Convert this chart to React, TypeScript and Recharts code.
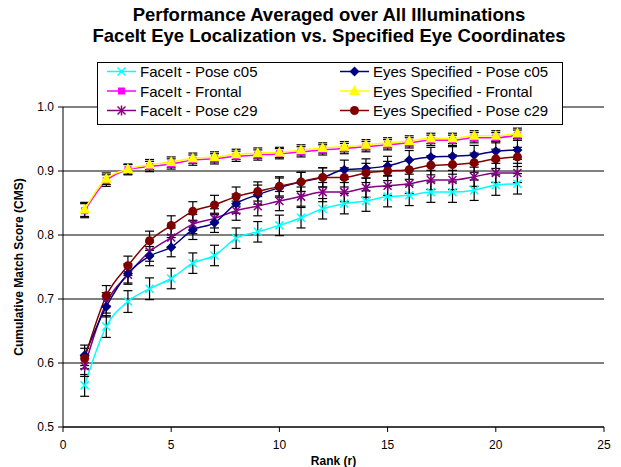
import { CartesianGrid, ErrorBar, Line, LineChart, XAxis, YAxis } from "recharts"

// rank values on the x axis
const ranks = [1, 2, 3, 4, 5, 6, 7, 8, 9, 10, 11, 12, 13, 14, 15, 16, 17, 18, 19, 20, 21]

// cumulative match scores
const faceItPoseC05 = [0.565, 0.657, 0.696, 0.716, 0.732, 0.756, 0.768, 0.795, 0.805, 0.815, 0.827, 0.841, 0.849, 0.853, 0.86, 0.862, 0.867, 0.867, 0.87, 0.878, 0.88]
const faceItFrontal = [0.838, 0.885, 0.902, 0.907, 0.911, 0.917, 0.919, 0.923, 0.925, 0.927, 0.93, 0.933, 0.935, 0.938, 0.941, 0.944, 0.948, 0.948, 0.952, 0.952, 0.956]
const faceItPoseC29 = [0.595, 0.694, 0.738, 0.774, 0.796, 0.817, 0.826, 0.838, 0.845, 0.853, 0.86, 0.867, 0.867, 0.874, 0.877, 0.88, 0.886, 0.886, 0.891, 0.897, 0.897]
const eyesPoseC05 = [0.612, 0.688, 0.74, 0.767, 0.781, 0.808, 0.819, 0.849, 0.863, 0.874, 0.883, 0.89, 0.902, 0.904, 0.908, 0.917, 0.922, 0.923, 0.925, 0.931, 0.933]
const eyesFrontal = [0.84, 0.888, 0.903, 0.91, 0.914, 0.92, 0.922, 0.926, 0.928, 0.929, 0.933, 0.936, 0.938, 0.941, 0.944, 0.947, 0.951, 0.951, 0.955, 0.955, 0.959]
const eyesPoseC29 = [0.607, 0.705, 0.752, 0.791, 0.815, 0.837, 0.847, 0.86, 0.868, 0.876, 0.883, 0.89, 0.89, 0.897, 0.9, 0.902, 0.909, 0.91, 0.913, 0.919, 0.922]

// error bar half-heights
const poseC05Err = [0.017, 0.017, 0.017, 0.017, 0.016, 0.016, 0.016, 0.016, 0.016, 0.016, 0.016, 0.016, 0.016, 0.016, 0.016, 0.016, 0.016, 0.016, 0.016, 0.016, 0.016]
const frontalErr = [0.011, 0.009, 0.008, 0.008, 0.008, 0.008, 0.008, 0.008, 0.008, 0.008, 0.008, 0.008, 0.008, 0.008, 0.008, 0.008, 0.008, 0.008, 0.008, 0.008, 0.008]
const otherErr = [0.016, 0.016, 0.015, 0.015, 0.015, 0.015, 0.015, 0.015, 0.015, 0.015, 0.015, 0.015, 0.015, 0.015, 0.015, 0.015, 0.015, 0.015, 0.015, 0.015, 0.015]

const xTicks = [0, 5, 10, 15, 20, 25]
const yTicks = [0.5, 0.6, 0.7, 0.8, 0.9, 1.0]

type Kind = "x" | "square" | "star" | "diamond" | "triangle" | "circle"

const series: { key: string; name: string; color: string; kind: Kind; values: number[]; err: number[] }[] = [
  { key: "faceC05", name: "FaceIt - Pose c05", color: "#00FFFF", kind: "x", values: faceItPoseC05, err: poseC05Err },
  { key: "faceFrontal", name: "FaceIt - Frontal", color: "#FF00FF", kind: "square", values: faceItFrontal, err: frontalErr },
  { key: "faceC29", name: "FaceIt - Pose c29", color: "#800080", kind: "star", values: faceItPoseC29, err: otherErr },
  { key: "eyesC05", name: "Eyes Specified - Pose c05", color: "#000080", kind: "diamond", values: eyesPoseC05, err: otherErr },
  { key: "eyesFrontal", name: "Eyes Specified - Frontal", color: "#FFFF00", kind: "triangle", values: eyesFrontal, err: frontalErr },
  { key: "eyesC29", name: "Eyes Specified - Pose c29", color: "#800000", kind: "circle", values: eyesPoseC29, err: otherErr },
]

const data = ranks.map((rank, i) => {
  const row: Record<string, number> = { rank }
  series.forEach((s) => {
    row[s.key] = s.values[i]
    row[s.key + "Err"] = s.err[i]
  })
  return row
})

function Marker({ kind, cx, cy, color }: { kind: Kind; cx: number; cy: number; color: string }) {
  switch (kind) {
    case "x":
      return (
        <g stroke={color} strokeWidth={1.5}>
          <line x1={cx - 4} y1={cy - 4} x2={cx + 4} y2={cy + 4} />
          <line x1={cx - 4} y1={cy + 4} x2={cx + 4} y2={cy - 4} />
        </g>
      )
    case "square":
      return <rect x={cx - 3.5} y={cy - 3.5} width={7} height={7} fill={color} />
    case "star":
      return (
        <g stroke={color} strokeWidth={1.5}>
          <line x1={cx - 4} y1={cy - 4} x2={cx + 4} y2={cy + 4} />
          <line x1={cx - 4} y1={cy + 4} x2={cx + 4} y2={cy - 4} />
          <line x1={cx} y1={cy - 5} x2={cx} y2={cy + 5} />
        </g>
      )
    case "diamond":
      return <polygon points={`${cx},${cy - 5} ${cx + 5},${cy} ${cx},${cy + 5} ${cx - 5},${cy}`} fill={color} />
    case "triangle":
      return <polygon points={`${cx},${cy - 6} ${cx + 5.5},${cy + 4} ${cx - 5.5},${cy + 4}`} fill={color} />
    default:
      return <circle cx={cx} cy={cy} r={4.5} fill={color} />
  }
}

const YLabel = (props: any) => {
  const vb = props.viewBox || {}
  const cy = vb.y + vb.height / 2
  return (
    <text
      x={19}
      y={cy}
      transform={`rotate(-90 19 ${cy})`}
      textAnchor="middle"
      dominantBaseline="central"
      fontSize={12}
      fontWeight="bold"
      fill="#000"
    >
      Cumulative Match Score (CMS)
    </text>
  )
}

const font = "'Liberation Sans', Arial, sans-serif"

export default function App() {
  return (
    <div style={{ position: "absolute", left: 0, top: 0, width: 621, height: 467, background: "#fff", fontFamily: font, overflow: "hidden" }}>
      <div style={{ position: "absolute", left: 0, width: 658, top: 4, textAlign: "center", fontSize: 18.5, fontWeight: "bold", lineHeight: "21px", whiteSpace: "nowrap" }}>
        Performance Averaged over All Illuminations
        <br />
        FaceIt Eye Localization vs. Specified Eye Coordinates
      </div>
      <LineChart width={621} height={467} data={data} margin={{ top: 107, right: 17, left: 0, bottom: 0 }} style={{ fontFamily: font }}>
        <CartesianGrid horizontal vertical={false} stroke="#000" strokeWidth={1} />
        <XAxis
          dataKey="rank"
          type="number"
          domain={[0, 25]}
          ticks={xTicks}
          height={40}
          stroke="#000"
          tickSize={5}
          tickMargin={8}
          tick={{ fontSize: 12, fill: "#000" }}
          label={{ value: "Rank (r)", position: "insideBottom", offset: 2, fontSize: 12, fontWeight: "bold", fill: "#000" }}
        />
        <YAxis
          type="number"
          domain={[0.5, 1.0]}
          ticks={yTicks}
          width={63}
          stroke="#000"
          tickSize={5}
          tickMargin={4}
          tick={{ fontSize: 12, fill: "#000" }}
          tickFormatter={(v: number) => v.toFixed(1)}
          label={<YLabel />}
        />
        {series.map((s) => (
          <Line
            key={s.key}
            dataKey={s.key}
            type="monotone"
            stroke={s.color}
            strokeWidth={1.5}
            isAnimationActive={false}
            dot={(p: any) => <Marker key={`${s.key}-${p.index}`} kind={s.kind} cx={p.cx} cy={p.cy} color={s.color} />}
            activeDot={false}
          >
            <ErrorBar dataKey={s.key + "Err"} direction="y" width={4.5} stroke="#000" strokeWidth={1.2} />
          </Line>
        ))}
      </LineChart>
      <svg style={{ position: "absolute", left: 97, top: 62 }} width={466} height={63}>
        <rect x={0.5} y={0.5} width={465} height={62} fill="#fff" stroke="#000" />
        {series.map((s, i) => {
          const col = i < 3 ? 0 : 1
          const row = i % 3
          const x0 = col === 0 ? 10 : 243
          const y = 9.5 + row * 19.5
          return (
            <g key={s.key}>
              <line x1={x0} y1={y} x2={x0 + 29} y2={y} stroke={s.color} strokeWidth={1.5} />
              <Marker kind={s.kind} cx={x0 + 14.5} cy={y} color={s.color} />
              <text x={x0 + 33} y={y} dominantBaseline="central" fontSize={15} fill="#000" fontFamily={font}>
                {s.name}
              </text>
            </g>
          )
        })}
      </svg>
    </div>
  )
}
